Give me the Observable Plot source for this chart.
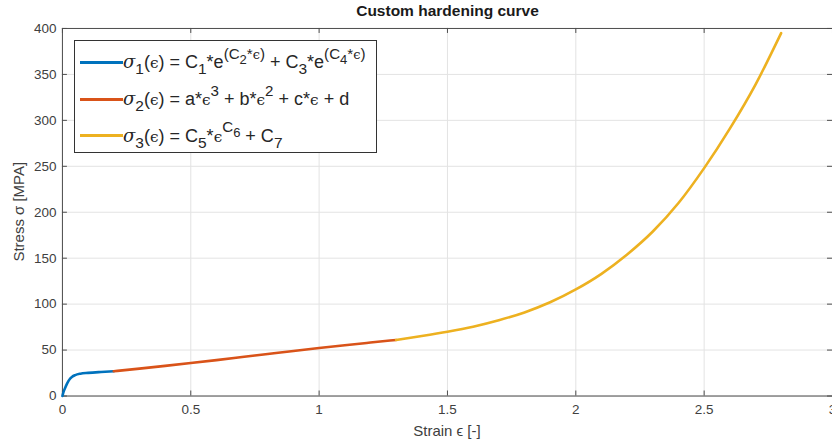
<!DOCTYPE html>
<html>
<head>
<meta charset="utf-8">
<script src="https://cdn.jsdelivr.net/npm/d3@7"></script>
<script src="https://cdn.jsdelivr.net/npm/@observablehq/plot@0.6"></script>
<style>
  html, body { margin: 0; padding: 0; background: #fff; overflow: hidden; }
  #wrap { position: relative; width: 832px; height: 441px; overflow: hidden; font-family: "Liberation Sans", Arial, Helvetica, sans-serif; }
  #title { position: absolute; left: 62px; width: 771px; top: 2px; text-align: center; font-weight: bold; font-size: 15.5px; color: #1a1a1a; }
  #legend { position: absolute; left: 74px; top: 40px; width: 303px; height: 113px; border: 1px solid #333; background: #fff; box-sizing: border-box; }
  .row { position: absolute; left: 0; height: 20px; line-height: 20px; white-space: nowrap; font-size: 18px; color: #262626; }
  .sw { position: absolute; left: 5px; width: 43px; height: 3px; }
  .tx { position: absolute; left: 48px; top: -10px; line-height: 20px; }
  .tx sub { font-size: 0.86em; vertical-align: -0.4em; line-height: 0; }
  .tx sup { font-size: 0.84em; vertical-align: 0.6em; line-height: 0; }
  .tx sup sub { font-size: 0.86em; vertical-align: -0.35em; }
  .g { font-family: "DejaVu Serif", serif; font-style: italic; }
  .e { font-family: "DejaVu Serif", serif; font-size: 0.85em; }
</style>
</head>
<body>
<div id="wrap">
  <div id="chart"></div>
  <div id="title">Custom hardening curve</div>
  <div id="legend"></div>
</div>
<script>
// Piece 1: double-exponential fit, σ1(ϵ)
const strain1 = [0, 0.005, 0.01, 0.018, 0.025, 0.038, 0.05, 0.07, 0.1, 0.15, 0.2];
const stress1 = [0, 5, 8.5, 13.5, 17, 21, 22.8, 24.3, 25.2, 26.2, 27];

// Piece 2: cubic polynomial, σ2(ϵ)
const strain2 = [0.2, 0.3, 0.4, 0.5, 0.6, 0.7, 0.8, 0.9, 1.0, 1.1, 1.2, 1.3];
const stress2 = [27, 29.8, 32.8, 35.9, 39.1, 42.4, 45.7, 49, 52.2, 55.3, 58.2, 61];

// Piece 3: power law, σ3(ϵ)
const strain3 = [1.3, 1.4, 1.5, 1.6, 1.7, 1.8, 1.9, 2.0, 2.1, 2.2, 2.3, 2.4, 2.5, 2.6, 2.7, 2.8];
const stress3 = [61, 65.3, 70, 75.5, 82.5, 91, 102, 116, 133, 154, 179, 210, 248, 291, 339, 395];

const seriesColors = ["#0072BD", "#D95319", "#EDB120"];
const xTicks = [0, 0.5, 1, 1.5, 2, 2.5, 3];
const yTicks = [0, 50, 100, 150, 200, 250, 300, 350, 400];

const legendHtml = [
  `<span class="g">σ</span><sub>1</sub>(<span class="e">ϵ</span>) = C<sub>1</sub>*e<sup>(C<sub>2</sub>*<span class="e">ϵ</span>)</sup> + C<sub>3</sub>*e<sup>(C<sub>4</sub>*<span class="e">ϵ</span>)</sup>`,
  `<span class="g">σ</span><sub>2</sub>(<span class="e">ϵ</span>) = a*<span class="e">ϵ</span><sup>3</sup> + b*<span class="e">ϵ</span><sup>2</sup> + c*<span class="e">ϵ</span> + d`,
  `<span class="g">σ</span><sub>3</sub>(<span class="e">ϵ</span>) = C<sub>5</sub>*<span class="e">ϵ</span><sup>C<sub>6</sub></sup> + C<sub>7</sub>`
];

const pieces = [[strain1, stress1], [strain2, stress2], [strain3, stress3]];
const table = pieces.flatMap(([xs, ys], k) => xs.map((x, i) => ({piece: k, strain: x, stress: ys[i]})));

const W = 833, H = 441, mL = 62, mR = 0, mT = 28, mB = 45;
const innerW = W - mL - mR, innerH = H - mT - mB;
const tick = 5;
const axisColor = "#4d4d4d";

const chart = Plot.plot({
  width: W,
  height: H,
  marginLeft: mL,
  marginRight: mR,
  marginTop: mT,
  marginBottom: mB,
  style: {fontFamily: "Liberation Sans, Arial, Helvetica, sans-serif", fontSize: "13px", color: "#333", background: "#fff"},
  x: {domain: [0, 3]},
  y: {domain: [0, 400]},
  marks: [
    Plot.gridX(xTicks, {stroke: "#e3e3e3", strokeOpacity: 1}),
    Plot.gridY(yTicks, {stroke: "#e3e3e3", strokeOpacity: 1}),
    // inward tick marks on all four sides
    Plot.ruleX(xTicks, {stroke: axisColor, insetTop: innerH - tick}),
    Plot.ruleX(xTicks, {stroke: axisColor, insetBottom: innerH - tick}),
    Plot.ruleY(yTicks, {stroke: axisColor, insetRight: innerW - tick}),
    Plot.ruleY(yTicks, {stroke: axisColor, insetLeft: innerW - tick}),
    Plot.frame({stroke: axisColor}),
    Plot.axisX(xTicks, {
      tickSize: 0, tickPadding: 8, tickFormat: d => `${d}`,
      fontSize: 13.5, fill: "#404040",
      label: null
    }),
    Plot.axisY(yTicks, {
      tickSize: 0, tickPadding: 6, tickFormat: d => `${d}`,
      fontSize: 13.5, fill: "#404040",
      label: null
    }),
    Plot.line(table, {
      x: "strain", y: "stress", z: "piece",
      stroke: d => seriesColors[d.piece],
      strokeWidth: 2.6, curve: "monotone-x"
    })
  ]
});

const svg = d3.select(chart);
// axis titles
svg.append("text")
  .attr("x", mL + innerW / 2).attr("y", 437)
  .attr("text-anchor", "middle")
  .attr("font-size", 15).attr("fill", "#404040")
  .text("Strain ϵ [-]");
svg.append("text")
  .attr("transform", `translate(24, ${mT + innerH / 2}) rotate(-90)`)
  .attr("text-anchor", "middle")
  .attr("font-size", 15).attr("fill", "#404040")
  .text("Stress σ [MPA]");

document.getElementById("chart").appendChild(chart);

// legend
const legend = document.getElementById("legend");
const rowTops = [21, 58, 94.5];
legendHtml.forEach((html, i) => {
  const row = document.createElement("div");
  row.className = "row";
  row.style.top = rowTops[i] + "px";
  row.innerHTML = `<div class="sw" style="background:${seriesColors[i]};top:-1.5px"></div><div class="tx">${html}</div>`;
  legend.appendChild(row);
});
</script>
</body>
</html>
